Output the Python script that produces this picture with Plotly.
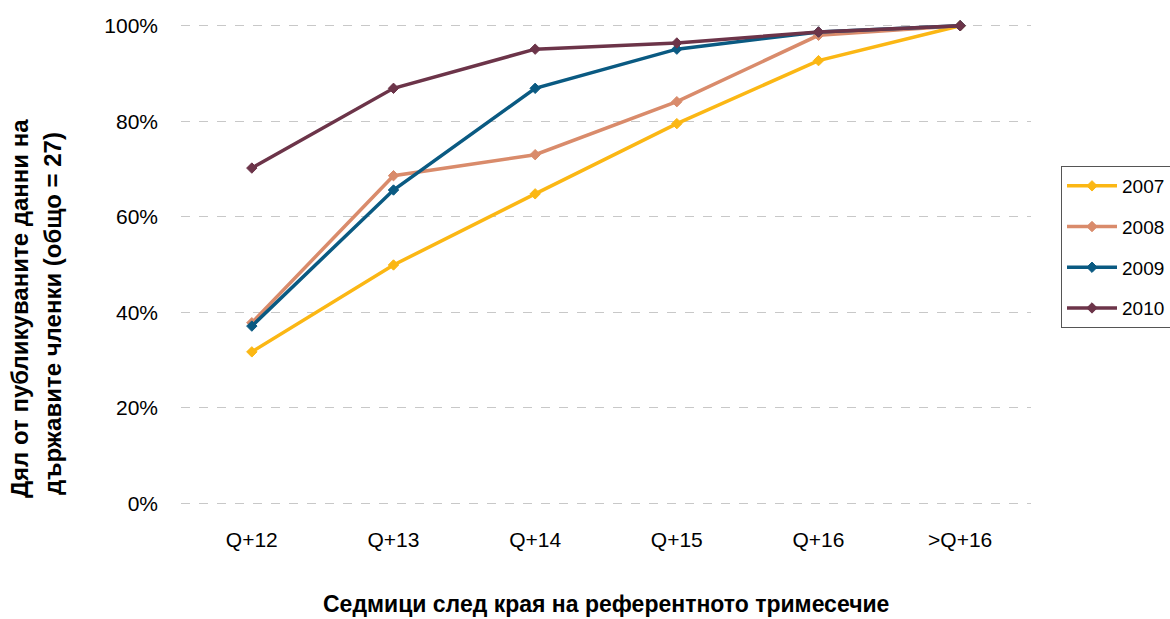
import plotly.graph_objects as go

categories = ["Q+12", "Q+13", "Q+14", "Q+15", "Q+16", ">Q+16"]
years = ["2007", "2008", "2009", "2010"]
v2007 = [0.317, 0.499, 0.648, 0.795, 0.927, 1.0]
v2008 = [0.378, 0.686, 0.730, 0.841, 0.980, 1.0]
v2009 = [0.371, 0.656, 0.869, 0.951, 0.987, 1.0]
v2010 = [0.702, 0.869, 0.951, 0.964, 0.987, 1.0]
series = [v2007, v2008, v2009, v2010]
colors = ["#FBB714", "#D98B6B", "#0A5A82", "#6C3449"]
y_ticks = [0, 0.2, 0.4, 0.6, 0.8, 1.0]
y_labels = ["0%", "20%", "40%", "60%", "80%", "100%"]

FONT = "Liberation Sans"
fig = go.Figure()
for name, vals, col in zip(years, series, colors):
    fig.add_trace(go.Scatter(
        x=categories, y=vals, name=name, mode="lines+markers",
        line=dict(color=col, width=3.5),
        marker=dict(symbol="diamond", size=8, color=col, line=dict(color=col, width=1)),
        cliponaxis=False, legendgroup=name,
    ))

W, H = 1170, 619
L, R, T, B = 181, 139, 21, 111
pw, ph = W - L - R, H - T - B
PAD = 0.01

def px_x(x):
    return (x - L) / pw

def px_y(y):
    return (H - B - y) / ph

fig.update_layout(
    width=W, height=H,
    margin=dict(l=L, r=R, t=T, b=B, autoexpand=False),
    paper_bgcolor="white", plot_bgcolor="white",
    font=dict(family=FONT, size=21, color="black"),
    showlegend=True,
    legend=dict(
        x=px_x(1061), y=px_y(166), xanchor="left", yanchor="top",
        bordercolor="#555555", borderwidth=1,
        font=dict(size=19, family=FONT),
        tracegroupgap=13, itemwidth=50,
    ),
    xaxis=dict(
        type="category", range=[-0.5, 5.5], showgrid=False, showline=False,
        zeroline=False, ticks="", ticklabelstandoff=17,
        tickfont=dict(size=21, family=FONT),
    ),
    yaxis=dict(
        range=[-PAD, 1 + PAD], tickvals=y_ticks, ticktext=y_labels,
        showgrid=True, gridcolor="#C8C8C8", griddash="dash", gridwidth=1,
        showline=False, zeroline=False, ticks="", ticklabelstandoff=22,
        tickfont=dict(size=21, family=FONT),
    ),
    annotations=[
        dict(text="<b>Седмици след края на референтното тримесечие</b>",
             xref="paper", yref="paper", x=px_x(606), y=px_y(604),
             xanchor="center", yanchor="middle", showarrow=False,
             font=dict(size=23, family=FONT)),
        dict(text="<b>Дял от публикуваните данни на</b>",
             xref="paper", yref="paper", x=px_x(19), y=px_y(309),
             xanchor="center", yanchor="middle", showarrow=False, textangle=-90,
             font=dict(size=24, family=FONT)),
        dict(text="<b>държавите членки (общо = 27)</b>",
             xref="paper", yref="paper", x=px_x(52), y=px_y(314),
             xanchor="center", yanchor="middle", showarrow=False, textangle=-90,
             font=dict(size=24, family=FONT)),
    ],
)

fig.write_html("out.html", post_script="document.body.style.margin='0px';",
               config={"displayModeBar": False})
